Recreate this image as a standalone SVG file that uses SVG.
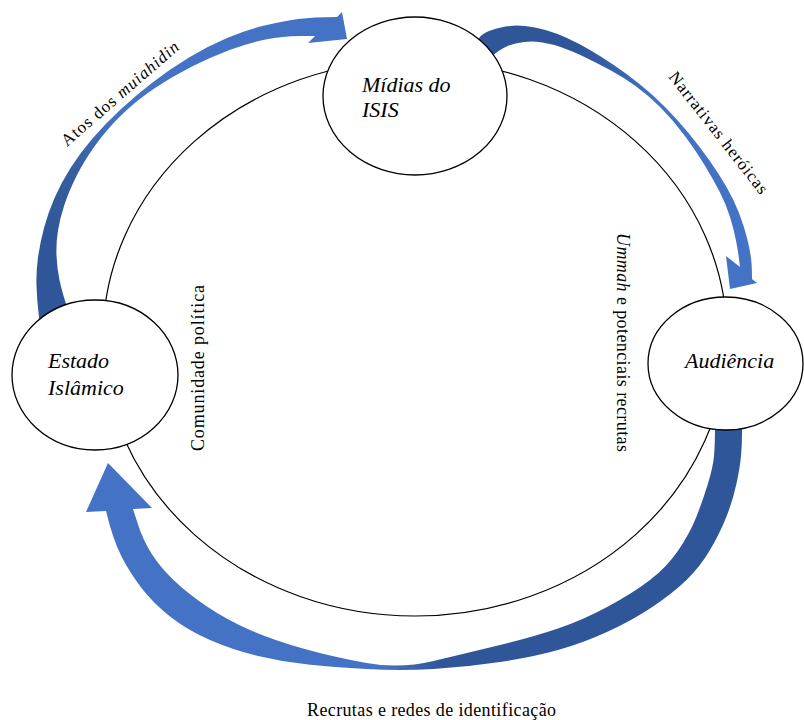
<svg xmlns="http://www.w3.org/2000/svg" width="804" height="720" viewBox="0 0 804 720">
<style>
.node{fill:#ffffff;stroke:#000000;stroke-width:1.3}
.cycle{fill:none;stroke:#000000;stroke-width:1.2}
.nt{font-family:"Liberation Serif","Times New Roman",serif;font-style:italic;font-size:22px;fill:#000000}
.lbl{font-family:"Liberation Serif","Times New Roman",serif;font-size:17px;fill:#000000}
.vl{font-family:"Liberation Serif","Times New Roman",serif;font-size:18px;fill:#000000}
.it{font-style:italic}
</style>
<defs>
  <linearGradient id="g1" gradientUnits="userSpaceOnUse" x1="52" y1="240" x2="115" y2="118">
    <stop offset="0" stop-color="#30569A"/>
    <stop offset="0.55" stop-color="#36609F"/>
    <stop offset="1" stop-color="#4472C4"/>
  </linearGradient>
  <linearGradient id="g2" gradientUnits="userSpaceOnUse" x1="585" y1="45" x2="655" y2="100">
    <stop offset="0" stop-color="#30569A"/>
    <stop offset="1" stop-color="#4472C4"/>
  </linearGradient>
  <linearGradient id="g3" gradientUnits="userSpaceOnUse" x1="440" y1="0" x2="385" y2="0">
    <stop offset="0" stop-color="#30569A"/>
    <stop offset="1" stop-color="#4472C4"/>
  </linearGradient>
</defs>
<rect x="0" y="0" width="804" height="720" fill="#ffffff"/>
<g id="connectors">
  <ellipse class="cycle" cx="415" cy="338" rx="312" ry="278"/>
  <path id="arrow-estado-midias" fill="url(#g1)" d="M40,325 L38.5,312.5 Q37,300 36.5,286 Q36,272 38,257.5 Q40,243 44,228 Q48,213 54.5,198 Q61,183 70.5,168 Q80,153 92.5,138.5 Q105,124 120,110 Q135,96 152.5,82.5 Q170,69 189,57.5 Q208,46 227,38 Q246,30 264.5,25.5 Q283,21 298,19 Q313,17 337,17 L342,12 L347,39 L308,43 L315,36 L299,36 Q283,36 265.5,39.5 Q248,43 229.5,50 Q211,57 192,66.5 Q173,76 155,88 Q137,100 122,114.5 Q107,129 95.5,145 Q84,161 76.5,176 Q69,191 64.5,204.5 Q60,218 58,230.5 Q56,243 56.5,255.5 Q57,268 59.5,280 Q62,292 68,310 Z"/>
  <path id="arrow-midias-audiencia" fill="url(#g2)" d="M476,42 L479,38 Q482,34 489,31 Q496,28 505.5,26.5 Q515,25 525,26 Q535,27 545.5,30 Q556,33 567,38 Q578,43 590,50 Q602,57 614.5,65.5 Q627,74 639.5,84 Q652,94 664.5,106.5 Q677,119 688.5,133 Q700,147 709.5,160.5 Q719,174 726.5,187 Q734,200 739,213 Q744,226 747,238 Q750,250 751,258 Q752,266 752,279 L757,283 L730,289 L726,256 L740,267 L739,259 Q738,251 736,240.5 Q734,230 730,217 Q726,204 719.5,191.5 Q713,179 704.5,165 Q696,151 684.5,135.5 Q673,120 660.5,107.5 Q648,95 635.5,86 Q623,77 610,70 Q597,63 584.5,57 Q572,51 562,47.5 Q552,44 542.5,42.5 Q533,41 524,42 Q515,43 507.5,46 Q500,49 490,58 Z"/>
  <path id="arrow-audiencia-estado" fill="url(#g3)" d="M742,425 L742,435 Q742,445 741,456 Q740,467 736.5,483.5 Q733,500 726.5,516.5 Q720,533 710,550 Q700,567 686.5,580 Q673,593 653,606.5 Q633,620 608,631.5 Q583,643 558,650 Q533,657 500,662 Q467,667 433.5,669 Q400,671 366.5,669 Q333,667 308,664.5 Q283,662 258,656 Q233,650 210,640 Q187,630 170,616.5 Q153,603 141.5,588 Q130,573 121.5,556.5 Q113,540 106,511 L86,512 L108,463 L152,508 L133,509 L138,524.5 Q143,540 151.5,553.5 Q160,567 173.5,580 Q187,593 207,606.5 Q227,620 250,630 Q273,640 303,648.5 Q333,657 366.5,663 Q400,669 433.5,661 Q467,653 500,645 Q533,637 558,628.5 Q583,620 608,606.5 Q633,593 650,580 Q667,567 678.5,550 Q690,533 696.5,516.5 Q703,500 708,483.5 Q713,467 714,456 Q715,445 715,425 Z"/>
  <text class="lbl" transform="translate(67,147) rotate(-41)" textLength="150" lengthAdjust="spacing">Atos dos <tspan class="it">muiahidin</tspan></text>
  <text class="lbl" transform="translate(668,77) rotate(52)" textLength="150" lengthAdjust="spacing">Narrativas heróicas</text>
  <text class="vl" transform="translate(204,451) rotate(-90)" textLength="166" lengthAdjust="spacing">Comunidade política</text>
  <text class="vl" transform="translate(617,233) rotate(90)" textLength="219" lengthAdjust="spacing"><tspan class="it">Ummah</tspan> e potenciais recrutas</text>
  <text class="vl" x="307" y="716" textLength="249" lengthAdjust="spacing">Recrutas e redes de identificação</text>
</g>
<g id="node-midias">
  <ellipse class="node" cx="415" cy="96" rx="92" ry="79"/>
  <text class="nt" x="362" y="92">Mídias do</text>
  <text class="nt" x="362" y="117">ISIS</text>
</g>
<g id="node-estado">
  <ellipse class="node" cx="95" cy="375" rx="83" ry="75"/>
  <text class="nt" x="48" y="368">Estado</text>
  <text class="nt" x="48" y="395">Islâmico</text>
</g>
<g id="node-audiencia">
  <ellipse class="node" cx="725.5" cy="363.5" rx="77.5" ry="66.5"/>
  <text class="nt" x="685" y="368">Audiência</text>
</g>
</svg>
